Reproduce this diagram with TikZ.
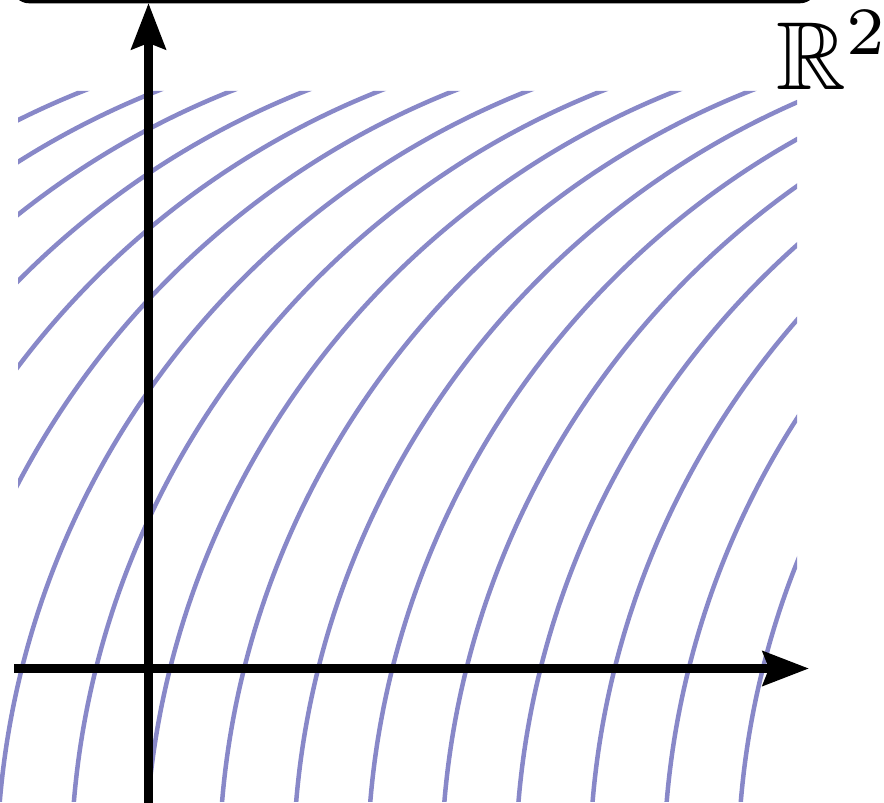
\documentclass[tikz,border=0pt]{standalone}
\usepackage{amssymb}
\usetikzlibrary{arrows.meta}
\definecolor{arccol}{RGB}{136,136,200}
\begin{document}
\begin{tikzpicture}[x=0.02cm,y=0.02cm,
  axis/.style={line width=0.18cm, -{Stealth[length=0.92cm,width=0.68cm,inset=0.12cm]}},
  wave/.style={draw=arccol, line width=0.09cm},
  frame/.style={draw=black, line width=0.08cm, rounded corners=0.3cm},
  lbl/.style={anchor=base west, inner sep=0pt, scale=5.5}]
\useasboundingbox (0,0) rectangle (884,803);
\clip (0,0) rectangle (884,803);
\draw[frame] (14,801.7) rectangle (815,903);
\begin{scope}
  \clip (18,712) -- (797,712) -- (797,1) -- (-5,1) -- (-5,203) -- (18,203) -- cycle;
  \foreach \k in {-8,...,8}{
    \draw[wave] ({986+74.1*\k-841},-70) arc[start angle=180, end angle=90, radius=841];
  }
\end{scope}
\coordinate (xs) at (14,134.5);
\coordinate (xe) at (809,134.5);
\coordinate (ys) at (148.5,-5);
\coordinate (ye) at (148.5,800);
\draw[axis] (xs) -- (xe);
\draw[axis] (ys) -- (ye);
\node[lbl] (space) at (775,713) {$\mathbb{R}^2$};
\end{tikzpicture}
\end{document}
